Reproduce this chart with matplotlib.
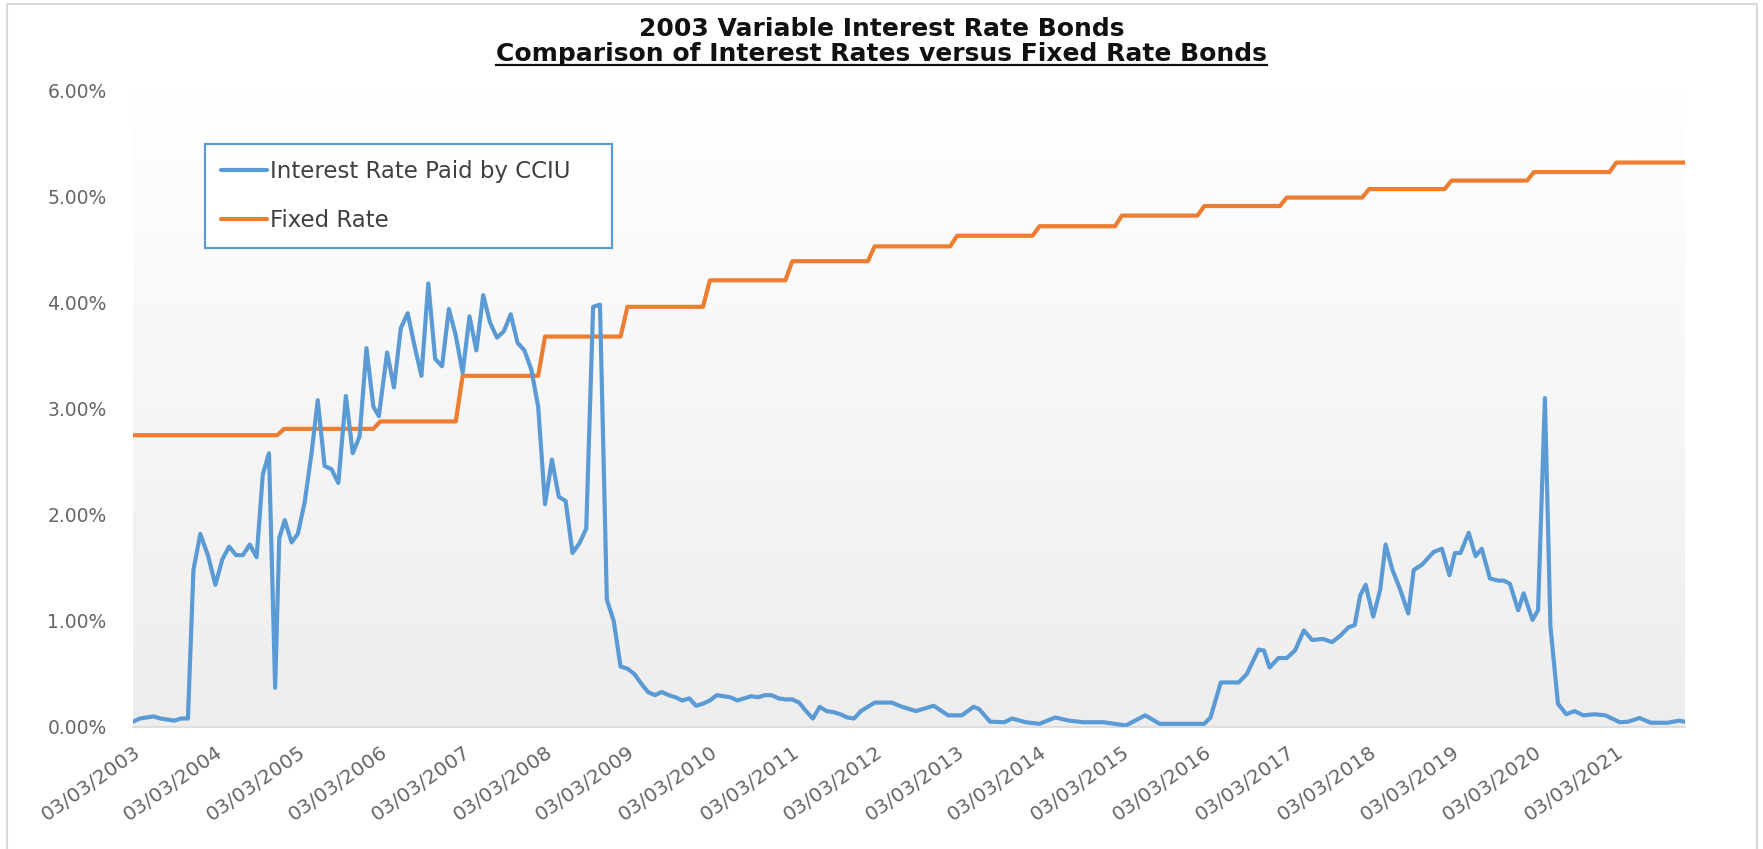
import matplotlib
matplotlib.use("Agg")
import matplotlib.pyplot as plt
import numpy as np
from matplotlib.colors import LinearSegmentedColormap
from matplotlib.lines import Line2D
from matplotlib.patches import Rectangle

# Monthly readings, x = months counted from 03/03/2003, rate in percent
cciu_month = [
    0, 1, 2, 3, 4, 5, 6, 7, 8, 8.8, 9.8, 10.9, 12, 13, 14, 15, 16, 17, 18,
    18.9, 19.8, 20.7, 21.3, 22.1, 23.1, 24, 25, 26, 26.9, 27.9, 28.9, 29.9,
    31, 32, 33, 34, 35, 35.8, 37, 38, 39, 40, 41, 42, 43, 44, 45, 46, 47, 48,
    49, 50, 51, 52, 53, 54, 55, 56, 57, 58, 59, 60, 61, 62, 63, 64, 65, 66,
    67, 68, 69, 70, 71, 72, 73, 74, 75, 76, 77, 78, 79, 80, 81, 82, 83, 84,
    85, 86, 87, 88, 89, 90, 91, 92, 93, 94, 95, 96, 97, 98, 99, 100, 101, 102,
    103, 104, 105, 106, 107, 108, 110.5, 112, 114, 116.6, 118.7, 120.7, 122.4,
    123.2, 124.8, 126.9, 128, 130, 132, 134.3, 136.3, 138.4, 141.3, 144.6,
    147.4, 149.5, 156, 156.9, 158.4, 161, 162.2, 163.9, 164.7, 165.5, 166.8,
    168, 169.2, 170.5, 171.7, 173.3, 174.6, 175.8, 177, 177.9, 178.7, 179.5,
    180.6, 181.6, 182.4, 183.4, 184.5, 185.7, 186.5, 187.7, 189.4, 190.6,
    191.7, 192.5, 193.3, 194.5, 195.5, 196.4, 197.6, 198.8, 199.6, 200.5,
    201.7, 202.5, 203.8, 204.6, 205.6, 206.4, 207.5, 208.7, 209.9, 211.2,
    212.8, 214.4, 216.5, 217.7, 219.4, 221, 223.5, 225.1, 226,
]
cciu_rate = [
    0.05, 0.08, 0.09, 0.10, 0.08, 0.07, 0.06, 0.08, 0.08, 1.48, 1.82, 1.62,
    1.34, 1.58, 1.70, 1.62, 1.62, 1.72, 1.60, 2.38, 2.58, 0.37, 1.78, 1.95,
    1.74, 1.82, 2.12, 2.58, 3.08, 2.46, 2.43, 2.30, 3.12, 2.58, 2.74, 3.57,
    3.02, 2.93, 3.53, 3.20, 3.76, 3.90, 3.59, 3.31, 4.18, 3.47, 3.40, 3.94,
    3.69, 3.34, 3.87, 3.55, 4.07, 3.81, 3.67, 3.73, 3.89, 3.62, 3.55, 3.37,
    3.02, 2.10, 2.52, 2.17, 2.13, 1.64, 1.73, 1.87, 3.96, 3.98, 1.20, 1.00,
    0.57, 0.55, 0.50, 0.41, 0.33, 0.30, 0.33, 0.30, 0.28, 0.25, 0.27, 0.20,
    0.22, 0.25, 0.30, 0.29, 0.28, 0.25, 0.27, 0.29, 0.28, 0.30, 0.30, 0.27,
    0.26, 0.26, 0.23, 0.15, 0.08, 0.19, 0.15, 0.14, 0.12, 0.09, 0.08, 0.15,
    0.19, 0.23, 0.23, 0.19, 0.15, 0.20, 0.11, 0.11, 0.19, 0.17, 0.05, 0.045,
    0.08, 0.045, 0.03, 0.09, 0.06, 0.045, 0.045, 0.015, 0.11, 0.03, 0.03,
    0.09, 0.42, 0.42, 0.50, 0.73, 0.72, 0.56, 0.65, 0.65, 0.72, 0.91, 0.82,
    0.83, 0.80, 0.86, 0.94, 0.96, 1.24, 1.34, 1.04, 1.29, 1.72, 1.48, 1.30,
    1.07, 1.48, 1.53, 1.65, 1.68, 1.43, 1.64, 1.64, 1.83, 1.61, 1.68, 1.40,
    1.38, 1.38, 1.35, 1.10, 1.26, 1.01, 1.10, 3.10, 0.95, 0.22, 0.12, 0.15,
    0.11, 0.12, 0.11, 0.045, 0.05, 0.085, 0.04, 0.04, 0.06, 0.05,
]

# Fixed rate: month where each level starts, and the level in percent
fixed_start_month = [0, 22, 36, 48, 60, 72, 84, 96, 108, 120, 132, 144,
                     156, 168, 180, 192, 204, 216]
fixed_level = [2.75, 2.81, 2.88, 3.31, 3.68, 3.96, 4.21, 4.39, 4.53, 4.63,
               4.72, 4.82, 4.91, 4.99, 5.07, 5.15, 5.23, 5.32]
last_month = 226

tick_years = list(range(2003, 2022))
tick_labels = [f"03/03/{y}" for y in tick_years]
y_ticks = [0, 1, 2, 3, 4, 5, 6]

BLUE = "#5B9BD5"
ORANGE = "#ED7D31"
GREY_TXT = "#666666"

plt.rcParams["font.family"] = ["DejaVu Sans"]

# build the stepped fixed-rate line (one month per step ramp)
fixed_x, fixed_y = [], []
ends = fixed_start_month[1:] + [last_month + 1]
for s, e, lvl in zip(fixed_start_month, ends, fixed_level):
    fixed_x += [s, e - 1]
    fixed_y += [lvl, lvl]

W, H = 1763, 849
fig = plt.figure(figsize=(W / 100, H / 100), dpi=100)
ax = fig.add_axes([133 / W, 1 - 727 / H, (1685 - 133) / W, (727 - 90.4) / H])

# plot-area gradient, white at top to light grey at bottom
grad = LinearSegmentedColormap.from_list("bg", ["#ffffff", "#ededed"])
ax.imshow(np.linspace(0, 1, 256).reshape(-1, 1), extent=[0, last_month, 0, 6],
          aspect="auto", cmap=grad, origin="upper", zorder=0)

ax.plot(cciu_month, cciu_rate, color=BLUE, linewidth=3,
        solid_joinstyle="round", solid_capstyle="round",
        label="Interest Rate Paid by CCIU", zorder=3)
ax.plot(fixed_x, fixed_y, color=ORANGE, linewidth=3,
        solid_joinstyle="round", solid_capstyle="round",
        label="Fixed Rate", zorder=2)

ax.set_xlim(0, last_month)
ax.set_ylim(0, 6)

for side in ["top", "left", "right"]:
    ax.spines[side].set_visible(False)
ax.spines["bottom"].set_color("#d9d9d9")
ax.spines["bottom"].set_linewidth(1.2)

ax.set_yticks(y_ticks)
ax.set_yticklabels([f"{v:.2f}%" for v in y_ticks])
ax.tick_params(axis="y", length=0, pad=19, labelsize=13.5, labelcolor=GREY_TXT)

ax.set_xticks([12 * i for i in range(len(tick_years))])
ax.set_xticklabels(tick_labels, rotation=35, ha="right", va="top",
                   rotation_mode="anchor")
ax.tick_params(axis="x", length=0, pad=11, labelsize=14.5, labelcolor=GREY_TXT)

leg = ax.legend(loc="upper left", bbox_to_anchor=(205 / W, 1 - 144 / H, 407 / W, 0),
                bbox_transform=fig.transFigure, mode="expand", borderaxespad=0,
                fontsize=16.5, handlelength=2.0, handletextpad=0.15, borderpad=0.7,
                labelspacing=1.12, fancybox=False, framealpha=1)
leg.get_frame().set_edgecolor(BLUE)
leg.get_frame().set_linewidth(1.6)
for t in leg.get_texts():
    t.set_color("#404040")

# titles
t1 = fig.text(0.5, 1 - 29 / H, "2003 Variable Interest Rate Bonds", ha="center",
              va="center", fontsize=18, fontweight="bold", color="#111111")
t2 = fig.text(0.5, 1 - 54 / H, "Comparison of Interest Rates versus Fixed Rate Bonds",
              ha="center", va="center", fontsize=18, fontweight="bold", color="#111111")

fig.canvas.draw()
bb = t2.get_window_extent(fig.canvas.get_renderer())
uy = 1 - 65 / H
fig.add_artist(Line2D([bb.x0 / W, bb.x1 / W], [uy, uy], transform=fig.transFigure,
                      color="#111111", linewidth=1.6))

# thin chart border
fig.add_artist(Rectangle((7 / W, -0.1), (1757 - 7) / W, 1.1 - 4 / H,
                         transform=fig.transFigure, fill=False,
                         edgecolor="#d9d9d9", linewidth=1.5))

fig.savefig("out.png", dpi=100)
plt.close(fig)
